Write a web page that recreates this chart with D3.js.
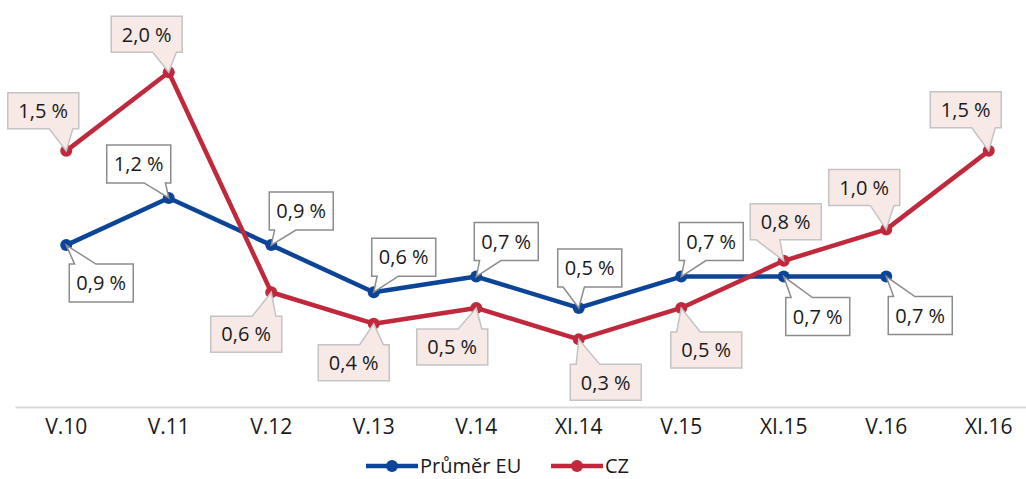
<!DOCTYPE html>
<meta charset="utf-8" />
<script src="https://d3js.org/d3.v7.min.js"></script>
<style>
  body { margin: 0; background: #fff; }
  text { font-family: "Open Sans", sans-serif; fill: #1a1a1a; }
</style>
<body>
  <div id="my_dataviz"></div>
</body>
<script>
  // categories and series
  var periods = ["V.10", "V.11", "V.12", "V.13", "V.14", "XI.14", "V.15", "XI.15", "V.16", "XI.16"];
  var euValues = [0.9, 1.2, 0.9, 0.6, 0.7, 0.5, 0.7, 0.7, 0.7];
  var czValues = [1.5, 2.0, 0.6, 0.4, 0.5, 0.3, 0.5, 0.8, 1.0, 1.5];
  var seriesNames = ["Průměr EU", "CZ"];

  // where each callout box sits relative to its point (box centre offset)
  var euLabelOffsets = [[35, 38], [-30, -34], [30, -34], [30, -35], [30, -35], [11, -40], [30, -35], [34, 40], [34, 39]];
  var czLabelOffsets = [[-23, -40], [-22, -38], [-25, 42], [-20, 39], [-24, 39], [27, 43], [25, 42], [2, -39], [-22, -42], [-23, -41]];

  var width = 1026, height = 479;
  var euColor = "#0c4597", czColor = "#c0293b";

  var svg = d3.select("#my_dataviz")
    .append("svg")
    .attr("width", width)
    .attr("height", height);

  var x = d3.scaleBand().domain(periods).range([15, 1040]).padding(0);
  var y = d3.scaleLinear().domain([0, 2]).range([386.5, 72.3]);
  var cx = function (i) { return x(periods[i]) + x.bandwidth() / 2; };

  // x axis
  var xAxis = svg.append("g")
    .attr("transform", "translate(0,407)")
    .call(d3.axisBottom(x).tickSize(0).tickPadding(12));
  xAxis.select(".domain").attr("stroke", "#d9d9d9").attr("stroke-width", 2);
  xAxis.selectAll("text")
    .style("font-family", "Open Sans, sans-serif")
    .style("font-size", "21px")
    .attr("fill", "#1a1a1a")
    .attr("dy", "0.71em");

  var fmt = function (v) { return d3.format(".1f")(v).replace(".", ",") + " %"; };

  // callout box with a wedge pointing at (tx,ty)
  function callout(bx, by, w, h, tx, ty) {
    var mx = bx + w / 2, my = by + h / 2;
    var dx = tx - mx, dy = ty - my;
    var p = d3.path();
    if (Math.abs(dy) / h >= Math.abs(dx) / w) {
      var a = dx >= 0 ? bx + w * 7 / 12 : bx + w / 12;
      var b = dx >= 0 ? bx + w * 11 / 12 : bx + w * 5 / 12;
      p.moveTo(bx, by);
      if (dy < 0) { p.lineTo(a, by); p.lineTo(tx, ty); p.lineTo(b, by); }
      p.lineTo(bx + w, by);
      p.lineTo(bx + w, by + h);
      if (dy > 0) { p.lineTo(b, by + h); p.lineTo(tx, ty); p.lineTo(a, by + h); }
      p.lineTo(bx, by + h);
      p.closePath();
    } else {
      var c = dy >= 0 ? by + h * 7 / 12 : by + h / 12;
      var d = dy >= 0 ? by + h * 11 / 12 : by + h * 5 / 12;
      p.moveTo(bx, by);
      p.lineTo(bx + w, by);
      if (dx > 0) { p.lineTo(bx + w, c); p.lineTo(tx, ty); p.lineTo(bx + w, d); }
      p.lineTo(bx + w, by + h);
      p.lineTo(bx, by + h);
      if (dx < 0) { p.lineTo(bx, d); p.lineTo(tx, ty); p.lineTo(bx, c); }
      p.closePath();
    }
    return p.toString();
  }

  function drawSeries(values, color, offsets, boxW, boxH, fill, border) {
    var line = d3.line()
      .x(function (d, i) { return cx(i); })
      .y(function (d) { return y(d); });

    svg.append("path")
      .datum(values)
      .attr("fill", "none")
      .attr("stroke", color)
      .attr("stroke-width", 4.5)
      .attr("stroke-linejoin", "round")
      .attr("d", line);

    svg.selectAll(null)
      .data(values)
      .enter()
      .append("circle")
      .attr("cx", function (d, i) { return cx(i); })
      .attr("cy", function (d) { return y(d); })
      .attr("r", 6)
      .attr("fill", color);

    var labels = svg.selectAll(null)
      .data(values)
      .enter()
      .append("g");

    labels.append("path")
      .attr("fill", fill)
      .attr("stroke", border)
      .attr("stroke-width", 1.5)
      .attr("d", function (d, i) {
        var px = cx(i), py = y(d);
        var mx = px + offsets[i][0], my = py + offsets[i][1];
        return callout(mx - boxW / 2, my - boxH / 2, boxW, boxH, px, py);
      });

    labels.append("text")
      .attr("x", function (d, i) { return cx(i) + offsets[i][0]; })
      .attr("y", function (d, i) { return y(d) + offsets[i][1]; })
      .attr("dy", "0.36em")
      .attr("text-anchor", "middle")
      .style("font-size", "20px")
      .text(fmt);
  }

  drawSeries(euValues, euColor, euLabelOffsets, 64, 38, "#ffffff", "#8c8c8c");
  drawSeries(czValues, czColor, czLabelOffsets, 71, 36, "#f7e9e6", "#c4c4c4");

  // legend
  var legendItems = [
    { name: seriesNames[0], color: euColor, x0: 366 },
    { name: seriesNames[1], color: czColor, x0: 551 }
  ];
  var legend = svg.selectAll(".legend")
    .data(legendItems)
    .enter()
    .append("g")
    .attr("class", "legend")
    .attr("transform", function (d) { return "translate(" + d.x0 + ",466)"; });
  legend.append("line")
    .attr("x1", 0).attr("x2", 52)
    .attr("stroke", function (d) { return d.color; })
    .attr("stroke-width", 4.5);
  legend.append("circle")
    .attr("cx", 26).attr("r", 6)
    .attr("fill", function (d) { return d.color; });
  legend.append("text")
    .attr("x", 54)
    .attr("dy", "0.36em")
    .style("font-size", "20px")
    .text(function (d) { return d.name; });
</script>
